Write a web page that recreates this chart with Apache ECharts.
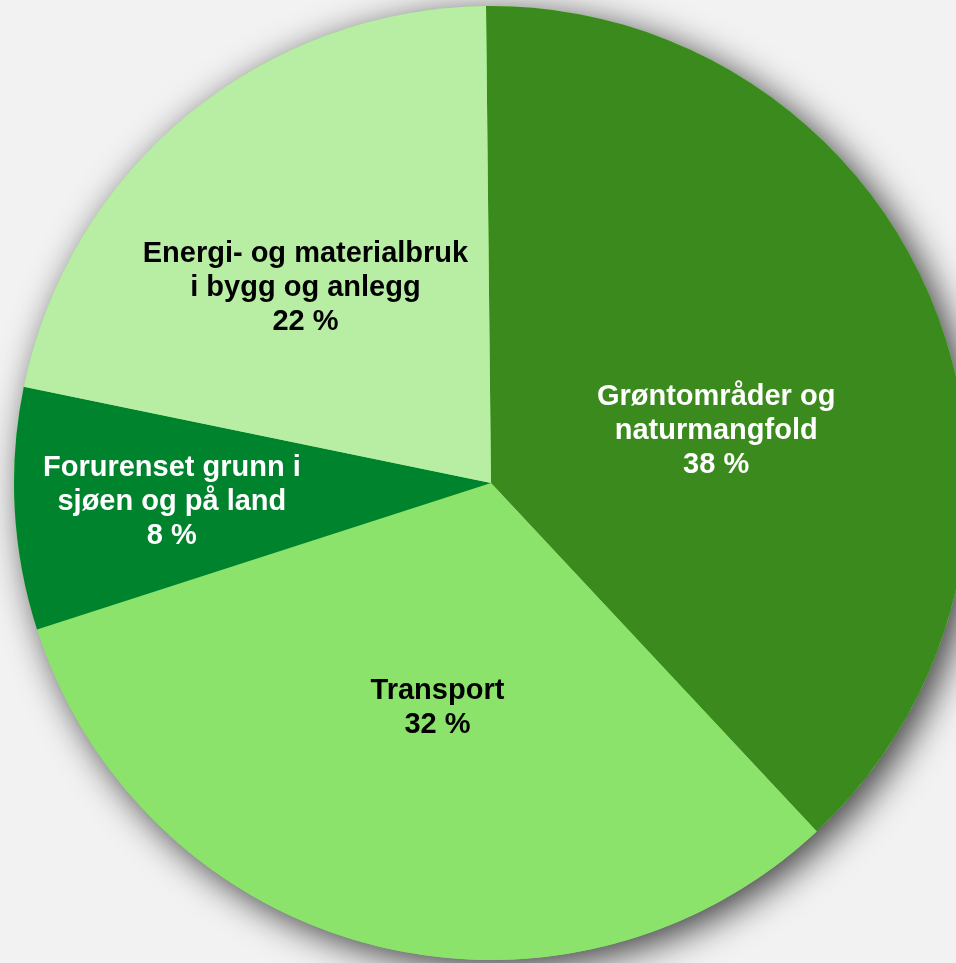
<!DOCTYPE html>
<html>
<head>
<meta charset="utf-8">
<script src="https://cdn.jsdelivr.net/npm/echarts@6/dist/echarts.min.js"></script>
<style>
  html, body { margin: 0; padding: 0; background: #f2f2f2; }
  #main { width: 956px; height: 963px; }
</style>
</head>
<body>
<div id="main"></div>
<script>
var categories = [
  'Grøntområder og\nnaturmangfold',
  'Transport',
  'Forurenset grunn i\nsjøen og på land',
  'Energi- og materialbruk\ni bygg og anlegg'
];
// shares in percent (labels show them rounded)
var values = [38.2, 32.0, 8.2, 21.6];
var colors = ['#3a8a1d', '#8be36b', '#00832d', '#b8eea4'];
var textColors = ['#ffffff', '#000000', '#ffffff', '#000000'];
// label nudges from the default "inside" spot
var labelShift = [[1, 38], [7, -9], [-78, 6], [-32, -9]];

var chartDom = document.getElementById('main');
var myChart = echarts.init(chartDom);
var option;

var total = values.reduce(function (a, b) { return a + b; }, 0);

var pieData = values.map(function (v, i) {
  return {
    name: categories[i],
    value: v,
    itemStyle: { color: colors[i] },
    label: { color: textColors[i] }
  };
});

option = {
  backgroundColor: '#f2f2f2',
  animation: false,
  series: [
    {
      // shadow under the whole pie
      type: 'pie',
      silent: true,
      center: [491, 483],
      radius: 477,
      label: { show: false },
      itemStyle: {
        color: '#8be36b',
        shadowBlur: 36,
        shadowOffsetX: 9,
        shadowOffsetY: 8,
        shadowColor: 'rgba(0,0,0,0.75)'
      },
      data: [{ name: 'shadow', value: total }]
    },
    {
      type: 'pie',
      center: [491, 483],
      radius: 477,
      startAngle: 90.6,
      clockwise: true,
      silent: true,
      label: {
        show: true,
        position: 'inside',
        fontFamily: 'Arial, "Liberation Sans", sans-serif',
        fontWeight: 'bold',
        fontSize: 29,
        lineHeight: 34,
        align: 'center',
        formatter: function (p) { return p.name + '\n' + Math.round(p.value) + ' %'; }
      },
      labelLine: { show: false },
      labelLayout: function (params) {
        var s = labelShift[params.dataIndex];
        return { dx: s[0], dy: s[1] };
      },
      data: pieData
    }
  ]
};

option && myChart.setOption(option);
</script>
</body>
</html>
